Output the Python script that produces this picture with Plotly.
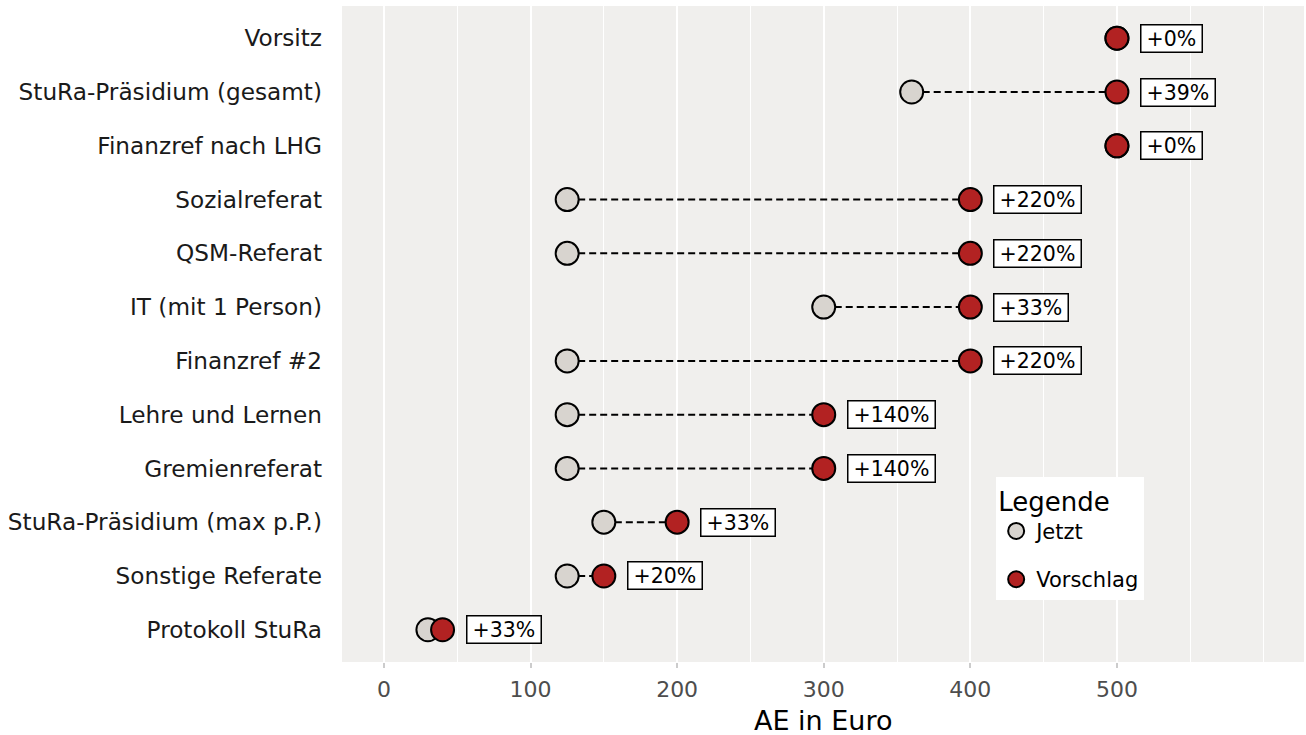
import plotly.graph_objects as go

categories = ["Vorsitz", "StuRa-Präsidium (gesamt)", "Finanzref nach LHG", "Sozialreferat",
              "QSM-Referat", "IT (mit 1 Person)", "Finanzref #2", "Lehre und Lernen",
              "Gremienreferat", "StuRa-Präsidium (max p.P.)", "Sonstige Referate", "Protokoll StuRa"]
jetzt = [500, 360, 500, 125, 125, 300, 125, 125, 125, 150, 125, 30]
vorschlag = [500, 500, 500, 400, 400, 400, 400, 300, 300, 200, 150, 40]
x_ticks = [0, 100, 200, 300, 400, 500]

pct_labels = ["+%d%%" % round((v / j - 1) * 100) for j, v in zip(jetzt, vorschlag)]

fig = go.Figure()

# dashed connectors
lx, ly = [], []
for c, j, v in zip(categories, jetzt, vorschlag):
    lx += [j, v, None]
    ly += [c, c, None]
fig.add_trace(go.Scatter(x=lx, y=ly, mode="lines", line=dict(color="black", width=2, dash="7px,4px"),
                         showlegend=False, hoverinfo="skip"))

fig.add_trace(go.Scatter(x=jetzt, y=categories, mode="markers", name="Jetzt", legendgroup="a",
                         marker=dict(size=23, color="#D8D4CF", line=dict(color="black", width=2))))
fig.add_trace(go.Scatter(x=vorschlag, y=categories, mode="markers", name="Vorschlag", legendgroup="b",
                         marker=dict(size=23, color="#B22222", line=dict(color="black", width=2))))

for c, v, t in zip(categories, vorschlag, pct_labels):
    fig.add_annotation(x=v, y=c, text="\u2009" + t + "\u2009", xref="x", yref="y", xanchor="left",
                       yanchor="middle", xshift=23, showarrow=False,
                       font=dict(size=20.5, color="black", family="DejaVu Sans"),
                       bgcolor="white", bordercolor="black", borderwidth=1.5, borderpad=1)

fig.add_annotation(x=0.5, y=0, xref="paper", yref="paper", xanchor="center", yanchor="top",
                   yshift=-41, text="AE in Euro", showarrow=False,
                   font=dict(size=27, color="black", family="DejaVu Sans"))

fig.update_layout(
    width=1306, height=735,
    margin=dict(l=342, r=2, t=6, b=73),
    paper_bgcolor="white", plot_bgcolor="#F0EFED",
    font=dict(family="DejaVu Sans", color="#1a1a1a"),
    legend=dict(x=0.68, y=0.282, xanchor="left", yanchor="top", bgcolor="white",
                title=dict(text="Legende", font=dict(size=26, color="black")),
                font=dict(size=21, color="black"), itemsizing="trace", tracegroupgap=18),
    xaxis=dict(range=[-28.6, 627.6], tickvals=x_ticks, ticktext=[str(t) for t in x_ticks],
               showgrid=True, gridcolor="white", gridwidth=2, zeroline=False, automargin=False,
               minor=dict(dtick=50, tick0=0, showgrid=True, gridcolor="white", gridwidth=1),
               ticks="outside", ticklen=5, tickwidth=1.5, tickcolor="#CCCCCC",
               tickfont=dict(size=22, color="#4D4D4D"), ticklabelstandoff=3),
    yaxis=dict(categoryorder="array", categoryarray=categories, autorange=False, automargin=False,
               range=[len(categories) - 0.4, -0.6], showgrid=False, zeroline=False,
               ticks="", tickfont=dict(size=23.2, color="#1a1a1a"), ticklabelstandoff=19),
)

fig.write_html("out.html", config={"displayModeBar": False},
               post_script="document.body.style.margin='0';document.body.style.overflow='hidden';")
